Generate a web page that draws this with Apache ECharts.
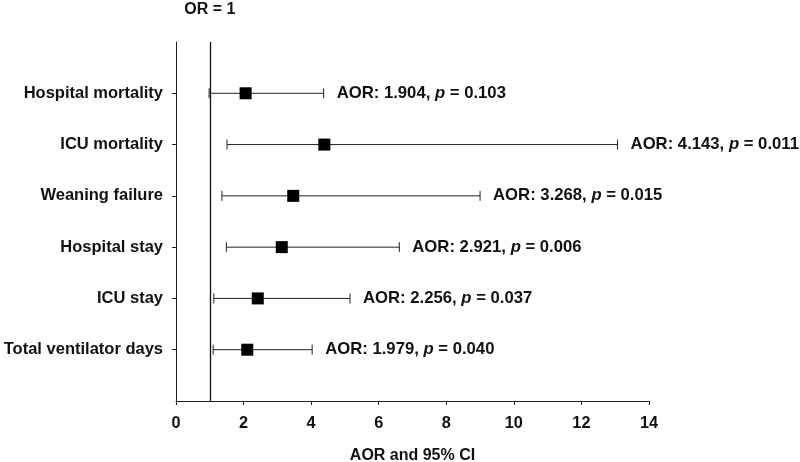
<!DOCTYPE html>
<html>
<head>
<meta charset="utf-8">
<script src="https://cdn.jsdelivr.net/npm/echarts@6/dist/echarts.min.js"></script>
<style>html,body{margin:0;padding:0;background:#fff}#c{width:800px;height:462px}</style>
</head>
<body>
<div id="c"></div>
<script>
const categories = ['Hospital mortality', 'ICU mortality', 'Weaning failure', 'Hospital stay', 'ICU stay', 'Total ventilator days'];
const pointValues = [2.06, 4.39, 3.47, 3.13, 2.42, 2.11];
const lowerCI = [0.98, 1.51, 1.36, 1.49, 1.12, 1.10];
const upperCI = [4.37, 13.07, 9.0, 6.61, 5.15, 4.03];
const aorText = ['1.904', '4.143', '3.268', '2.921', '2.256', '1.979'];
const pText = ['0.103', '0.011', '0.015', '0.006', '0.037', '0.040'];
const xTicks = [0, 2, 4, 6, 8, 10, 12, 14];
const refValue = 1;

const FONT = 'Liberation Sans, Arial, sans-serif';
const chart = echarts.init(document.getElementById('c'));

const rows = categories.map((c, i) => i + 1);
const ciData = categories.map((c, i) => [lowerCI[i], upperCI[i], rows[i], i]);
const ptData = categories.map((c, i) => [pointValues[i], rows[i]]);

chart.setOption({
  animation: false,
  backgroundColor: '#fff',
  grid: { left: 176, right: 151, top: 42, bottom: 61, outerBoundsMode: 'none', containLabel: false },
  xAxis: {
    type: 'value', min: xTicks[0], max: xTicks[xTicks.length - 1], interval: 2,
    name: 'AOR and 95% CI', nameLocation: 'middle', nameGap: 47,
    nameTextStyle: { fontFamily: FONT, fontWeight: 'bold', fontSize: 16, color: '#111' },
    axisLine: { show: true, onZero: false, lineStyle: { color: '#222', width: 1 } },
    axisTick: { show: true, inside: false, length: 4, lineStyle: { color: '#222' } },
    axisLabel: { fontFamily: FONT, fontWeight: 'bold', fontSize: 16.3, color: '#111', margin: 15 },
    splitLine: { show: false }
  },
  yAxis: {
    type: 'value', min: 0, max: 7, interval: 1, inverse: true,
    axisLine: { show: true, onZero: false, lineStyle: { color: '#222', width: 1 } },
    axisTick: { show: true, length: 4, customValues: rows, lineStyle: { color: '#222' } },
    axisLabel: {
      customValues: rows, fontFamily: FONT, fontWeight: 'bold', fontSize: 16.5, color: '#111', margin: 13,
      formatter: v => categories[v - 1] || ''
    },
    splitLine: { show: false }
  },
  series: [
    {
      type: 'custom',
      data: ciData,
      encode: { x: [0, 1], y: 2 },
      renderItem: function (params, api) {
        const lo = api.coord([api.value(0), api.value(2)]);
        const hi = api.coord([api.value(1), api.value(2)]);
        const idx = api.value(3);
        const cap = 5;
        const ls = { stroke: '#222', lineWidth: 1 };
        return {
          type: 'group',
          children: [
            { type: 'line', shape: { x1: lo[0], y1: lo[1], x2: hi[0], y2: hi[1] }, style: ls },
            { type: 'line', shape: { x1: lo[0], y1: lo[1] - cap, x2: lo[0], y2: lo[1] + cap }, style: ls },
            { type: 'line', shape: { x1: hi[0], y1: hi[1] - cap, x2: hi[0], y2: hi[1] + cap }, style: ls },
            {
              type: 'text',
              x: hi[0] + 13, y: hi[1],
              style: {
                text: '{a|AOR: ' + aorText[idx] + ', }{i|p}{a| = ' + pText[idx] + '}',
                verticalAlign: 'middle', align: 'left',
                rich: {
                  a: { fontFamily: FONT, fontWeight: 'bold', fontSize: 16.7, fill: '#111' },
                  i: { fontFamily: FONT, fontWeight: 'bold', fontStyle: 'italic', fontSize: 16.7, fill: '#111' }
                }
              }
            }
          ]
        };
      },
      z: 2
    },
    {
      type: 'scatter',
      data: ptData,
      symbol: 'rect',
      symbolSize: 12,
      itemStyle: { color: '#000', opacity: 1 },
      z: 3,
      markLine: {
        silent: true,
        symbol: 'none',
        data: [{ xAxis: refValue }],
        lineStyle: { color: '#111', width: 1.3, type: 'solid', opacity: 1 },
        label: {
          show: true, position: 'start', distance: 24, formatter: 'OR = 1',
          fontFamily: FONT, fontWeight: 'bold', fontSize: 16, color: '#111'
        }
      }
    }
  ]
});
</script>
</body>
</html>
